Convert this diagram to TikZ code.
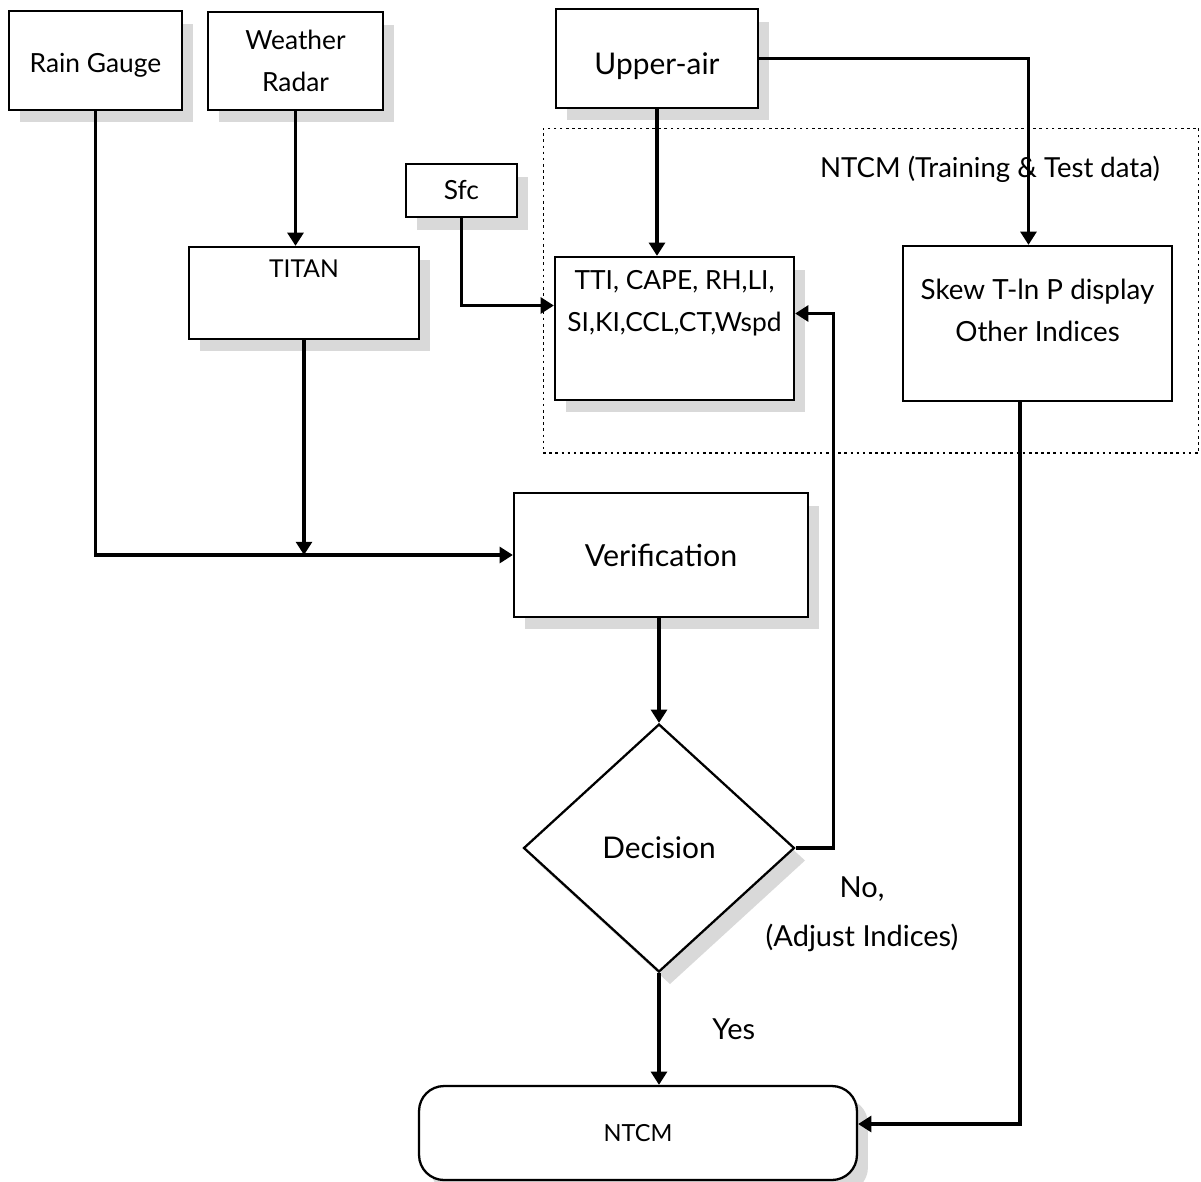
\documentclass[tikz,border=0pt]{standalone}
\usepackage{fontspec}
\setmainfont{Lato}
\usetikzlibrary{arrows.meta, positioning, calc, shapes.geometric, shadows}

\begin{document}
\begin{tikzpicture}[x=0.02cm, y=-0.02cm,
  box/.style={draw, line width=1.3pt, fill=white, inner sep=0pt, align=center, font=\fontsize{15}{24}\selectfont},
  shd/.style={drop shadow={shadow xshift=0.22cm, shadow yshift=-0.25cm, fill=gray!30, opacity=1}},
  group/.style={draw, line width=0.6pt, dash pattern=on 1.5pt off 2pt, inner sep=0pt},
  lbl/.style={font=\fontsize{16.5}{28}\selectfont, align=center},
  arr/.style={-{Triangle[length=7.5pt, width=9pt]}, line width=1.8pt}
]
  \useasboundingbox (0,0) rectangle (1201,1181);

  % Training group
  \node[group, minimum width=13.12cm, minimum height=6.5cm] (train) at (871,290.5) {};
  \node[lbl, font=\fontsize{15.7}{24}\selectfont] (trainlbl) at (990,169) {NTCM (Training \& Test data)};

  % Input sources
  \node[box, shd, minimum width=3.46cm, text height=1.22cm, text depth=0.76cm] (rain) at (95.5,60.5) {Rain Gauge};
  \node[box, shd, minimum width=3.5cm, minimum height=1.96cm] (radar) at (295.5,61) {Weather\\Radar};
  \node[box, shd, minimum width=4.04cm, text height=1.3cm, text depth=0.68cm, font=\fontsize{17}{24}\selectfont] (upper) at (657,58.5) {Upper-air};
  \node[box, shd, minimum width=2.22cm, minimum height=1.06cm] (sfc) at (461.5,190.5) {Sfc};

  % Processing
  \node[box, shd, minimum width=4.6cm, text height=0.6cm, text depth=1.24cm, font=\fontsize{14}{24}\selectfont] (titan) at (304,293) {TITAN};
  \node[box, shd, minimum width=4.78cm, minimum height=2.86cm] (tti) at (674.5,328.5)
    {TTI, CAPE, RH,LI,\\SI,KI,CCL,CT,Wspd\\\strut};
  \node[box, minimum width=5.38cm, minimum height=3.1cm, font=\fontsize{15.8}{24}\selectfont] (skew) at (1037.5,323.5)
    {Skew T-ln P display\\Other Indices\\[-16pt]\strut};

  % Verification loop
  \node[box, shd, minimum width=5.88cm, minimum height=2.48cm, font=\fontsize{17.3}{24}\selectfont] (verif) at (661,555) {Verification};
  \node[box, shd, diamond, minimum width=5.42cm, minimum height=4.96cm, font=\fontsize{17}{24}\selectfont] (dec) at (659,848) {Decision};
  \node[box, shd, rounded corners=0.5cm, minimum width=8.76cm, minimum height=1.88cm, font=\fontsize{13.4}{20}\selectfont] (ntcm) at (638,1133) {NTCM};
  \node[lbl] (nolbl) at (862,914) {No,\\(Adjust Indices)};

  % Arrows
  \coordinate (join) at (titan.south |- verif.west);
  \draw[arr] (rain.south) |- (verif.west);
  \draw[arr] (radar.south) -- (radar.south |- titan.north);
  \draw[arr] (titan.south) -- (join);
  \draw[arr] (upper.south) -- (upper.south |- tti.north);
  \draw[arr] (upper.east) -| ([xshift=-0.18cm]skew.north);
  \draw[arr] (sfc.south) |- ([yshift=0.46cm]tti.west);
  \draw[arr] (dec.north |- verif.south) -- (dec.north);
  \draw[arr] (dec.east) -- ++(38,0) |- ([yshift=0.3cm]tti.east);
  \draw[arr] (dec.south) -- (dec.south |- ntcm.north) node[lbl, midway, right=0.92cm] {Yes};
  \draw[arr] ([xshift=-0.35cm]skew.south) |- ([yshift=0.18cm]ntcm.east);

\end{tikzpicture}
\end{document}
